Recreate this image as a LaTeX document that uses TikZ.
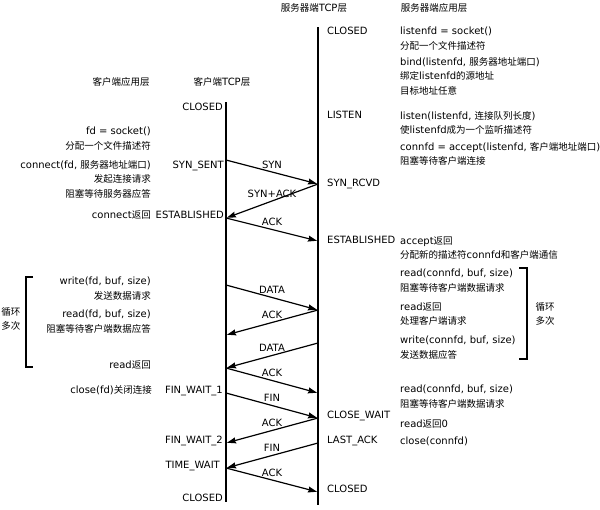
\documentclass[tikz,border=0pt]{standalone}
\usepackage{fontspec}
\setmainfont{DejaVu Sans}
\newfontfamily\zhfont{Noto Sans CJK SC}[Scale=0.95]
\newcommand{\zh}[1]{{\zhfont #1}}
\usetikzlibrary{arrows.meta}

\begin{document}
\begin{tikzpicture}[x=1pt, y=-1pt,
    every node/.style={font=\fontsize{10}{14.5}\selectfont, inner sep=0pt},
    lifeline/.style={line width=2pt},
    msg/.style={line width=1.2pt, shorten >=1pt, -{Stealth[length=9pt, width=6pt, inset=1pt]}},
    msglabel/.style={midway, above=3pt},
    loopbracket/.style={line width=1.3pt}]
      \useasboundingbox (0,0) rectangle (600,509);

      % Define the x positions of the two TCP layers
      \def\ClientX{226}
      \def\ServerX{318}

      % Draw the layer titles
      \node[anchor=base] (ServerTcpTitle) at (314,11) {\zh{服务器端}TCP\zh{层}};
      \node[anchor=base] (ServerAppTitle) at (434,11) {\zh{服务器端应用层}};
      \node[anchor=base] (ClientAppTitle) at (121,85) {\zh{客户端应用层}};
      \node[anchor=base] (ClientTcpTitle) at (222,85) {\zh{客户端}TCP\zh{层}};

      % Draw the lifelines
      \coordinate (CTop) at (\ClientX,102);
      \coordinate (CBot) at (\ClientX,502);
      \coordinate (STop) at (\ServerX,27);
      \coordinate (SBot) at (\ServerX,505);
      \draw[lifeline] (CTop) -- (CBot);
      \draw[lifeline] (STop) -- (SBot);

      % Define the message end points
      \foreach \n/\y in {1/160,2/218,3/285,4/335,5/368,6/393,7/443,8/468}
        \coordinate (C\n) at (\ClientX,\y);
      \foreach \n/\y in {1/184,2/241,3/310,4/343,5/393,6/418,7/443,8/492}
        \coordinate (S\n) at (\ServerX,\y);

      % Draw the segments
      \draw[msg] (C1) -- node[msglabel] {SYN} (S1);
      \draw[msg] (S1) -- node[msglabel] {SYN+ACK} (C2);
      \draw[msg] (C2) -- node[msglabel] {ACK} (S2);
      \draw[msg] (C3) -- node[msglabel] {DATA} (S3);
      \draw[msg] (S3) -- node[msglabel] {ACK} (C4);
      \draw[msg] (S4) -- node[msglabel] {DATA} (C5);
      \draw[msg] (C5) -- node[msglabel] {ACK} (S5);
      \draw[msg] (C6) -- node[msglabel] {FIN} (S6);
      \draw[msg] (S6) -- node[msglabel] {ACK} (C7);
      \draw[msg] (S7) -- node[msglabel] {FIN} (C8);
      \draw[msg] (C8) -- node[msglabel] {ACK} (S8);

      % Client states
      \node[anchor=base east] (CClosed) at (223,110) {CLOSED};
      \node[anchor=base east] (CSynSent) at (224,168) {SYN\_SENT};
      \node[anchor=base east] (CEstab) at (224,218) {ESTABLISHED};
      \node[anchor=base east] (CFinWait1) at (223,393) {FIN\_WAIT\_1};
      \node[anchor=base east] (CFinWait2) at (223,443) {FIN\_WAIT\_2};
      \node[anchor=base east] (CTimeWait) at (220,468) {TIME\_WAIT};
      \node[anchor=base east] (CClosedEnd) at (223,501) {CLOSED};

      % Server states
      \node[anchor=base west] (SClosed) at (327,34) {CLOSED};
      \node[anchor=base west] (SListen) at (327,118) {LISTEN};
      \node[anchor=base west] (SSynRcvd) at (327,186) {SYN\_RCVD};
      \node[anchor=base west] (SEstab) at (327,243) {ESTABLISHED};
      \node[anchor=base west] (SCloseWait) at (327,418) {CLOSE\_WAIT};
      \node[anchor=base west] (SLastAck) at (327,443) {LAST\_ACK};
      \node[anchor=base west] (SClosedEnd) at (327,492) {CLOSED};

      % Client application calls
      \node[anchor=north east, align=right] (CSocket) at (151,127) {fd = socket()\\\zh{分配一个文件描述符}};
      \node[anchor=north east, align=right] (CConnect) at (151,160) {connect(fd, \zh{服务器地址端口})\\\zh{发起连接请求}\\\zh{阻塞等待服务器应答}};
      \node[anchor=base east] (CConnectRet) at (151,218) {connect\zh{返回}};
      \node[anchor=north east, align=right] (CWrite) at (151,277) {write(fd, buf, size)\\\zh{发送数据请求}};
      \node[anchor=north east, align=right] (CRead) at (151,310) {read(fd, buf, size)\\\zh{阻塞等待客户端数据应答}};
      \node[anchor=base east] (CReadRet) at (151,368) {read\zh{返回}};
      \node[anchor=base east] (CClose) at (152,393) {close(fd)\zh{关闭连接}};

      % Server application calls
      \node[anchor=north west, align=left] (SSocket) at (400,27) {listenfd = socket()\\\zh{分配一个文件描述符}};
      \node[anchor=north west, align=left] (SBind) at (400,57) {bind(listenfd, \zh{服务器地址端口})\\\zh{绑定}listenfd\zh{的源地址}\\\zh{目标地址任意}};
      \node[anchor=north west, align=left] (SListenCall) at (400,111) {listen(listenfd, \zh{连接队列长度})\\\zh{使}listenfd\zh{成为一个监听描述符}};
      \node[anchor=north west, align=left] (SAccept) at (400,142) {connfd = accept(listenfd, \zh{客户端地址端口})\\\zh{阻塞等待客户端连接}};
      \node[anchor=north west, align=left] (SAcceptRet) at (400,236) {accept\zh{返回}\\\zh{分配新的描述符}connfd\zh{和客户端通信}};
      \node[anchor=north west, align=left] (SRead) at (400,269) {read(connfd, buf, size)\\\zh{阻塞等待客户端数据请求}};
      \node[anchor=north west, align=left] (SReadRet) at (400,302) {read\zh{返回}\\\zh{处理客户端请求}};
      \node[anchor=north west, align=left] (SWrite) at (400,336) {write(connfd, buf, size)\\\zh{发送数据应答}};
      \node[anchor=north west, align=left] (SReadLast) at (400,385) {read(connfd, buf, size)\\\zh{阻塞等待客户端数据请求}};
      \node[anchor=base west] (SReadZero) at (400,427) {read\zh{返回}0};
      \node[anchor=base west] (SClose) at (400,444) {close(connfd)};

      % Loop brackets
      \draw[loopbracket] (33,277) -- (26,277) -- (26,367) -- (33,367);
      \node[align=center] (CLoop) at (11,319) {\zh{循环}\\\zh{多次}};
      \draw[loopbracket] (519,268) -- (527,268) -- (527,359) -- (519,359);
      \node[align=center] (SLoop) at (545,314) {\zh{循环}\\\zh{多次}};
    \end{tikzpicture}
\end{document}
